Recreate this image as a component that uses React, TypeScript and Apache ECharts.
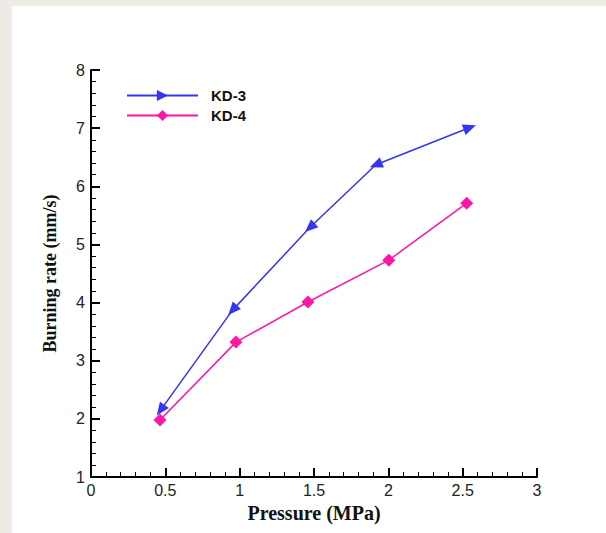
import React, { useEffect, useRef } from "react";
import * as echarts from "echarts";

const kd3X = [0.468, 0.952, 1.472, 1.916, 2.548];
const kd3Y = [2.15, 3.87, 5.29, 6.37, 7.01];
const kd3Rotate = [144, 138, 132, 112, -70];
const kd4X = [0.464, 0.975, 1.459, 2.003, 2.527];
const kd4Y = [1.98, 3.32, 4.01, 4.73, 5.71];
const seriesNames = ["KD-3", "KD-4"];

export default function App() {
  const ref = useRef<HTMLDivElement>(null);
  useEffect(() => {
    document.body.style.margin = "0";
    const chart = echarts.init(ref.current!, null, { renderer: "svg" });
    const blue = "#3535f2";
    const pink = "#ff16a6";
    chart.setOption({
      animation: false,
      backgroundColor: "#ffffff",
      graphic: [
        { type: "rect", shape: { x: 0, y: 0, width: 606, height: 6 }, style: { fill: "#eeebe4" }, silent: true, z: -10 },
        { type: "rect", shape: { x: 0, y: 0, width: 12, height: 533 }, style: { fill: "#eeebe4" }, silent: true, z: -10 },
      ],
      grid: { left: 91, right: 69, top: 70, bottom: 56, containLabel: false },
      legend: {
        left: 126,
        top: 88,
        padding: 0,
        orient: "vertical",
        itemWidth: 71,
        itemHeight: 14,
        itemGap: 5,
        data: seriesNames,
        textStyle: { fontFamily: "Liberation Sans, Arial", fontWeight: "bold", fontSize: 15, color: "#111", padding: [0, 0, 0, 8] },
      },
      xAxis: {
        type: "value",
        min: 0,
        max: 3,
        interval: 0.5,
        name: "Pressure (MPa)",
        nameLocation: "middle",
        nameGap: 11,
        nameTextStyle: { fontFamily: "Liberation Serif, Times New Roman", fontWeight: "bold", fontSize: 20, color: "#111" },
        axisLine: { lineStyle: { color: "#000", width: 2 } },
        axisTick: { inside: true, length: 9, lineStyle: { color: "#000", width: 2 } },
        minorTick: { show: true, splitNumber: 5, length: 5, lineStyle: { color: "#000", width: 1 } },
        axisLabel: { fontFamily: "Liberation Sans, Arial", fontSize: 16, color: "#222", margin: 5 },
        splitLine: { show: false },
      },
      yAxis: {
        type: "value",
        min: 1,
        max: 8,
        interval: 1,
        name: "Burning rate (mm/s)",
        nameLocation: "middle",
        nameGap: 32,
        nameTextStyle: { fontFamily: "Liberation Serif, Times New Roman", fontWeight: "bold", fontSize: 18, color: "#111" },
        axisLine: { show: true, lineStyle: { color: "#000", width: 2 } },
        axisTick: { show: true, inside: true, length: 9, lineStyle: { color: "#000", width: 2 } },
        minorTick: { show: true, splitNumber: 5, length: 5, lineStyle: { color: "#000", width: 1 } },
        axisLabel: { fontFamily: "Liberation Sans, Arial", fontSize: 16, color: "#222", margin: 6 },
        splitLine: { show: false },
      },
      series: [
        {
          name: seriesNames[0],
          type: "line",
          data: kd3X.map((x, i) => ({ value: [x, kd3Y[i]], symbolRotate: kd3Rotate[i] })),
          symbol: "triangle",
          symbolSize: [11, 13],
          symbolRotate: -90,
          itemStyle: { color: blue },
          lineStyle: { color: blue, width: 1.5 },
        },
        {
          name: seriesNames[1],
          type: "line",
          data: kd4X.map((x, i) => [x, kd4Y[i]]),
          symbol: "diamond",
          symbolSize: 13,
          itemStyle: { color: pink },
          lineStyle: { color: pink, width: 1.5 },
        },
      ],
    });
    return () => chart.dispose();
  }, []);
  return <div ref={ref} style={{ position: "absolute", left: 0, top: 0, width: 606, height: 533 }} />;
}
